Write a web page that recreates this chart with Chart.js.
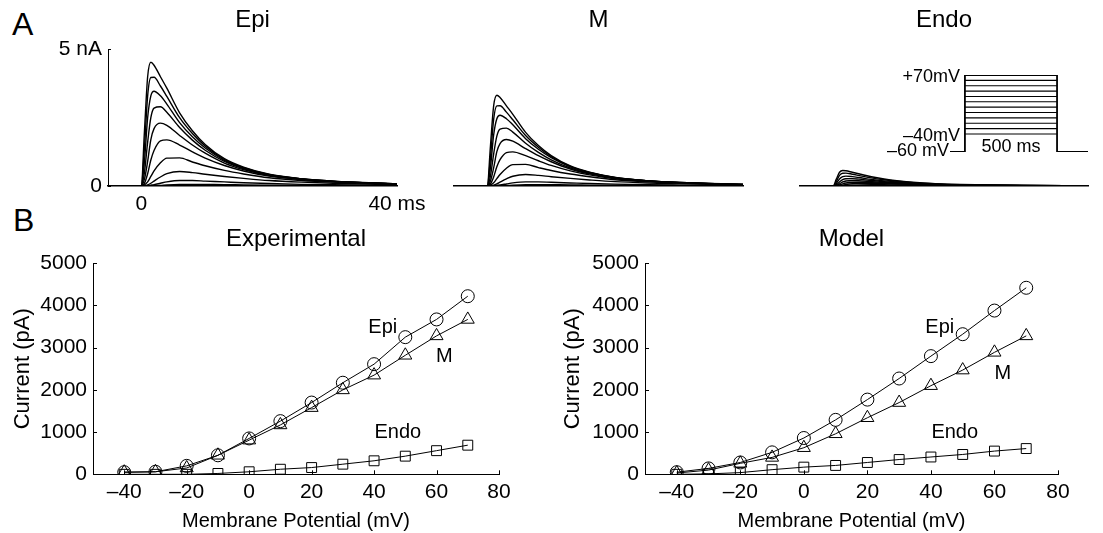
<!DOCTYPE html>
<html>
<head>
<meta charset="utf-8">
<script src="https://cdn.jsdelivr.net/npm/chart.js@4.4.0/dist/chart.umd.min.js"></script>
<style>
body { margin: 0; background: #fff; width: 1103px; height: 533px; position: relative; overflow: hidden;
       font-family: "Liberation Sans", Arial, sans-serif; }
canvas { position: absolute; }
.panel { position: absolute; font-size: 32px; line-height: 1; color: #000; }
</style>
</head>
<body>
<div class="panel" style="left:12px;top:8px">A</div>
<div class="panel" style="left:13px;top:204px">B</div>
<canvas id="cEpi" width="440" height="220" style="left:0;top:0"></canvas>
<canvas id="cM" width="330" height="220" style="left:440px;top:0"></canvas>
<canvas id="cEndo" width="333" height="220" style="left:770px;top:0"></canvas>
<canvas id="cProto" width="215" height="95" style="left:880px;top:65px"></canvas>
<canvas id="cExp" width="550" height="308" style="left:0;top:225px"></canvas>
<canvas id="cModel" width="553" height="308" style="left:550px;top:225px"></canvas>
<script>
const FONT = '"Liberation Sans", Arial, sans-serif';

// ---- panel A: current traces (nA) vs time (ms) ----
const traceTime = [-5.2, 0, 0.5, 1, 1.5, 2, 3, 4, 6, 8, 10, 13, 16, 20, 25, 30, 40];
const epiTraces = [
  [0, 0, 2.0, 4.0, 4.53, 4.42, 4.0, 3.58, 2.68, 2.02, 1.52, 1.0, 0.69, 0.43, 0.27, 0.18, 0.08],
  [0, 0, 1.4, 3.3, 3.97, 3.98, 3.66, 3.28, 2.5, 1.92, 1.46, 0.97, 0.67, 0.42, 0.265, 0.175, 0.078],
  [0, 0, 0.9, 2.5, 3.3, 3.47, 3.3, 3.0, 2.32, 1.8, 1.39, 0.94, 0.65, 0.41, 0.26, 0.17, 0.076],
  [0, 0, 0.5, 1.6, 2.5, 2.85, 2.9, 2.7, 2.14, 1.68, 1.31, 0.9, 0.63, 0.40, 0.255, 0.168, 0.074],
  [0, 0, 0.25, 0.9, 1.7, 2.1, 2.3, 2.22, 1.85, 1.5, 1.2, 0.84, 0.6, 0.385, 0.25, 0.165, 0.072],
  [0, 0, 0.1, 0.45, 0.95, 1.3, 1.65, 1.69, 1.5, 1.25, 1.02, 0.75, 0.55, 0.36, 0.24, 0.16, 0.07],
  [0, 0, 0.04, 0.15, 0.35, 0.55, 0.85, 1.02, 1.03, 0.88, 0.74, 0.57, 0.44, 0.30, 0.2, 0.14, 0.065],
  [0, 0, 0.01, 0.04, 0.1, 0.18, 0.33, 0.45, 0.53, 0.49, 0.43, 0.35, 0.28, 0.2, 0.14, 0.1, 0.05],
  [0, 0, 0, 0.01, 0.03, 0.05, 0.1, 0.15, 0.2, 0.2, 0.18, 0.15, 0.12, 0.09, 0.06, 0.045, 0.025],
  [0, 0, 0, 0, 0.01, 0.01, 0.02, 0.035, 0.055, 0.06, 0.055, 0.05, 0.04, 0.03, 0.02, 0.015, 0.008]
];
// peak amplitudes of the M and Endo traces (same kinetics as Epi)
const mPeaks = [3.32, 2.94, 2.59, 2.12, 1.70, 1.25, 0.79, 0.42, 0.15, 0.05];
const endoPeaks = [0.57, 0.47, 0.36, 0.27, 0.2, 0.14, 0.1, 0.05, 0.02, 0.005];
const aXTicks = [0, 40], aXTickLabels = ['0', '40 ms'];
const aYTicks = [0, 5], aYTickLabels = ['0', '5 nA'];

// voltage protocol inset
const protoTime = [-81, 0, 0, 500, 500, 668];
const protoHold = [-60, -60, 70, 70, -60, -60];
const stepTime = [0, 500];
const stepLevels = [-40, -30, -20, -10, 0, 10, 20, 30, 40, 50, 60, 70];

// ---- panel B: peak current (pA) vs membrane potential (mV) ----
const vSteps = [-40, -30, -20, -10, 0, 10, 20, 30, 40, 50, 60, 70];
const expEpi  = [50, 60, 200, 450, 850, 1260, 1700, 2170, 2610, 3250, 3670, 4220];
const expM    = [50, 60, 150, 450, 810, 1170, 1580, 2000, 2350, 2820, 3280, 3670];
const expEndo = [0, 0, 0, 20, 60, 120, 160, 240, 320, 430, 560, 690];
const modelEpi  = [50, 140, 280, 520, 860, 1290, 1770, 2270, 2800, 3320, 3880, 4420];
const modelM    = [30, 100, 260, 400, 630, 960, 1340, 1700, 2100, 2470, 2890, 3280];
const modelEndo = [0, 10, 40, 110, 170, 210, 280, 350, 410, 470, 550, 610];
const ivXTicks = [-40, -20, 0, 20, 40, 60, 80];
const ivYTicks = [0, 1000, 2000, 3000, 4000, 5000];
const curveNames = ['Epi', 'M', 'Endo'];
const expLabelX = [42.8, 62.5, 47.6], expLabelY = [3490, 2780, 1000];
const modelLabelX = [42.8, 62.6, 47.5], modelLabelY = [3490, 2400, 1000];

// small inward tick marks, matlab style
const inwardTicks = {
  id: 'inwardTicks',
  afterDraw(chart, args, opts) {
    const ctx = chart.ctx, len = opts.len || 4;
    ctx.save();
    ctx.strokeStyle = '#000';
    ctx.lineWidth = 1;
    if (opts.x) {
      const s = chart.scales.x;
      s.ticks.forEach(t => {
        const p = Math.round(s.getPixelForValue(t.value)) + 0.5;
        ctx.beginPath(); ctx.moveTo(p, s.top); ctx.lineTo(p, s.top - len); ctx.stroke();
      });
    }
    if (opts.y) {
      const s = chart.scales.y;
      s.ticks.forEach(t => {
        const p = Math.round(s.getPixelForValue(t.value)) + 0.5;
        ctx.beginPath(); ctx.moveTo(s.right, p); ctx.lineTo(s.right + len, p); ctx.stroke();
      });
    }
    ctx.restore();
  }
};

const curveLabels = {
  id: 'curveLabels',
  afterDatasetsDraw(chart, args, opts) {
    if (!opts.text) return;
    const ctx = chart.ctx;
    ctx.save();
    ctx.font = '20px ' + FONT;
    ctx.fillStyle = '#000';
    ctx.textAlign = 'center';
    ctx.textBaseline = 'middle';
    opts.text.forEach((t, i) => {
      ctx.fillText(t, chart.scales.x.getPixelForValue(opts.x[i]), chart.scales.y.getPixelForValue(opts.y[i]));
    });
    ctx.restore();
  }
};

function scaled(trace, peak) {
  const m = Math.max(...trace);
  return trace.map(v => v * peak / m);
}

function traceChart(id, traces, title, pad, withYAxis) {
  return new Chart(document.getElementById(id), {
    type: 'line',
    data: {
      datasets: traces.map(tr => ({
        data: traceTime.map((t, i) => ({x: t, y: tr[i]})),
        borderColor: '#000',
        borderWidth: 1.4,
        pointRadius: 0,
        cubicInterpolationMode: 'monotone',
        fill: false
      }))
    },
    options: {
      responsive: false,
      animation: false,
      events: [],
      layout: {padding: pad},
      plugins: {
        legend: {display: false},
        tooltip: {enabled: false},
        title: {display: true, text: title, fullSize: false, color: '#000',
                font: {family: FONT, size: 24, weight: 'normal'}, padding: {top: 6, bottom: 14.6}},
        inwardTicks: {y: withYAxis, x: false, len: 3}
      },
      scales: {
        x: {
          type: 'linear', min: -5.2, max: 40,
          grid: {display: false, drawTicks: false},
          border: {display: true, color: '#000', width: 1.5},
          afterBuildTicks: s => { s.ticks = aXTicks.map(v => ({value: v})); },
          afterFit: s => { s.height = 34; },
          ticks: {display: withYAxis, color: '#000', padding: 6, maxRotation: 0, autoSkip: false,
                  font: {family: FONT, size: 21}, callback: (v, i) => aXTickLabels[i]}
        },
        y: {
          display: withYAxis,
          min: 0, max: 5,
          grid: {display: false, drawTicks: false},
          border: {display: true, color: '#000', width: 1},
          afterBuildTicks: s => { s.ticks = aYTicks.map(v => ({value: v})); },
          afterFit: s => { if (withYAxis) s.width = 108; },
          ticks: {color: '#000', padding: 6, autoSkip: false,
                  font: {family: FONT, size: 21}, callback: (v, i) => aYTickLabels[i]}
        }
      }
    },
    plugins: [inwardTicks]
  });
}

traceChart('cEpi', epiTraces, 'Epi', {right: 43}, true);
traceChart('cM', epiTraces.map((tr, i) => scaled(tr, mPeaks[i])), 'M', {left: 14, right: 27}, false);
traceChart('cEndo', epiTraces.map((tr, i) => scaled(tr, endoPeaks[i])), 'Endo', {left: 30, right: 15}, false);

// protocol inset: holding outline and the test steps (steps drawn on their own scale, schematic spacing)
const protoLabels = {
  id: 'protoLabels',
  afterDraw(chart) {
    const ctx = chart.ctx, x = chart.scales.x, yS = chart.scales.yS, yH = chart.scales.yH;
    ctx.save();
    ctx.font = '18px ' + FONT;
    ctx.fillStyle = '#000';
    ctx.textBaseline = 'middle';
    ctx.textAlign = 'right';
    ctx.fillText('+70mV', x.getPixelForValue(stepTime[0]) - 5, yS.getPixelForValue(70) + 2);
    ctx.fillText('\u201340mV', x.getPixelForValue(stepTime[0]) - 5, yS.getPixelForValue(-40) + 2);
    ctx.fillText('\u201360 mV', x.getPixelForValue(protoTime[0]) - 1, yH.getPixelForValue(-60) - 1);
    ctx.textAlign = 'center';
    ctx.fillText('500 ms', x.getPixelForValue((stepTime[0] + stepTime[1]) / 2), yS.getPixelForValue(-40) + 13);
    ctx.restore();
  }
};
new Chart(document.getElementById('cProto'), {
  type: 'line',
  data: {
    datasets: [{
      data: protoTime.map((t, i) => ({x: t, y: protoHold[i]})),
      yAxisID: 'yH', borderColor: '#000', borderWidth: 1.8, pointRadius: 0, tension: 0
    }].concat(stepLevels.map(v => ({
      data: stepTime.map(t => ({x: t, y: v})),
      yAxisID: 'yS', borderColor: '#000', borderWidth: 1.1, pointRadius: 0, tension: 0
    })))
  },
  options: {
    responsive: false, animation: false, events: [],
    layout: {padding: {left: 70, right: 7, top: 10, bottom: 8}},
    plugins: {legend: {display: false}, tooltip: {enabled: false}},
    scales: {
      x: {type: 'linear', display: false, min: -81, max: 668},
      yH: {display: false, min: -60, max: 70},
      yS: {display: false, min: -73.6, max: 70}
    }
  },
  plugins: [protoLabels]
});

// ---- panel B ----
function ivChart(id, title, epi, m, endo, lx, ly, yWidth, padRight) {
  const ds = (vals, style, r) => ({
    data: vSteps.map((v, i) => ({x: v, y: vals[i]})),
    borderColor: '#000', borderWidth: 1, pointStyle: style, pointRadius: r,
    pointBorderColor: '#000', pointBackgroundColor: 'rgba(0,0,0,0)', pointBorderWidth: 1,
    tension: 0, fill: false
  });
  return new Chart(document.getElementById(id), {
    type: 'line',
    data: {datasets: [ds(endo, 'rect', 7), ds(m, 'triangle', 7.5), ds(epi, 'circle', 6.5)]},
    options: {
      responsive: false, animation: false, events: [],
      layout: {padding: {right: padRight}},
      plugins: {
        legend: {display: false}, tooltip: {enabled: false},
        title: {display: true, text: title, fullSize: false, color: '#000',
                font: {family: FONT, size: 24, weight: 'normal'}, padding: {top: 0, bottom: 9.5}},
        inwardTicks: {x: true, y: true, len: 4},
        curveLabels: {text: curveNames, x: lx, y: ly}
      },
      scales: {
        x: {
          type: 'linear', min: -50, max: 80,
          grid: {display: false, drawTicks: false},
          border: {display: true, color: '#000', width: 1},
          afterBuildTicks: s => { s.ticks = ivXTicks.map(v => ({value: v})); },
          afterFit: s => { s.height = 58.7; },
          ticks: {color: '#000', padding: 5, maxRotation: 0, autoSkip: false,
                  font: {family: FONT, size: 21},
                  callback: v => v < 0 ? '\u2013' + Math.abs(v) : String(v)},
          title: {display: true, text: 'Membrane Potential (mV)', color: '#000',
                  font: {family: FONT, size: 20}, padding: {top: 5, bottom: 0}}
        },
        y: {
          min: 0, max: 5000,
          grid: {display: false, drawTicks: false},
          border: {display: true, color: '#000', width: 1},
          afterBuildTicks: s => { s.ticks = ivYTicks.map(v => ({value: v})); },
          afterFit: s => { s.width = yWidth; },
          ticks: {color: '#000', padding: 6, autoSkip: false, font: {family: FONT, size: 21},
                  callback: v => String(v)},
          title: {display: true, text: 'Current (pA)', color: '#000',
                  font: {family: FONT, size: 22}, padding: {top: 10, bottom: 0}}
        }
      }
    },
    plugins: [inwardTicks, curveLabels]
  });
}

ivChart('cExp', 'Experimental', expEpi, expM, expEndo, expLabelX, expLabelY, 93, 51);
ivChart('cModel', 'Model', modelEpi, modelM, modelEndo, modelLabelX, modelLabelY, 95, 45);
</script>
</body>
</html>
